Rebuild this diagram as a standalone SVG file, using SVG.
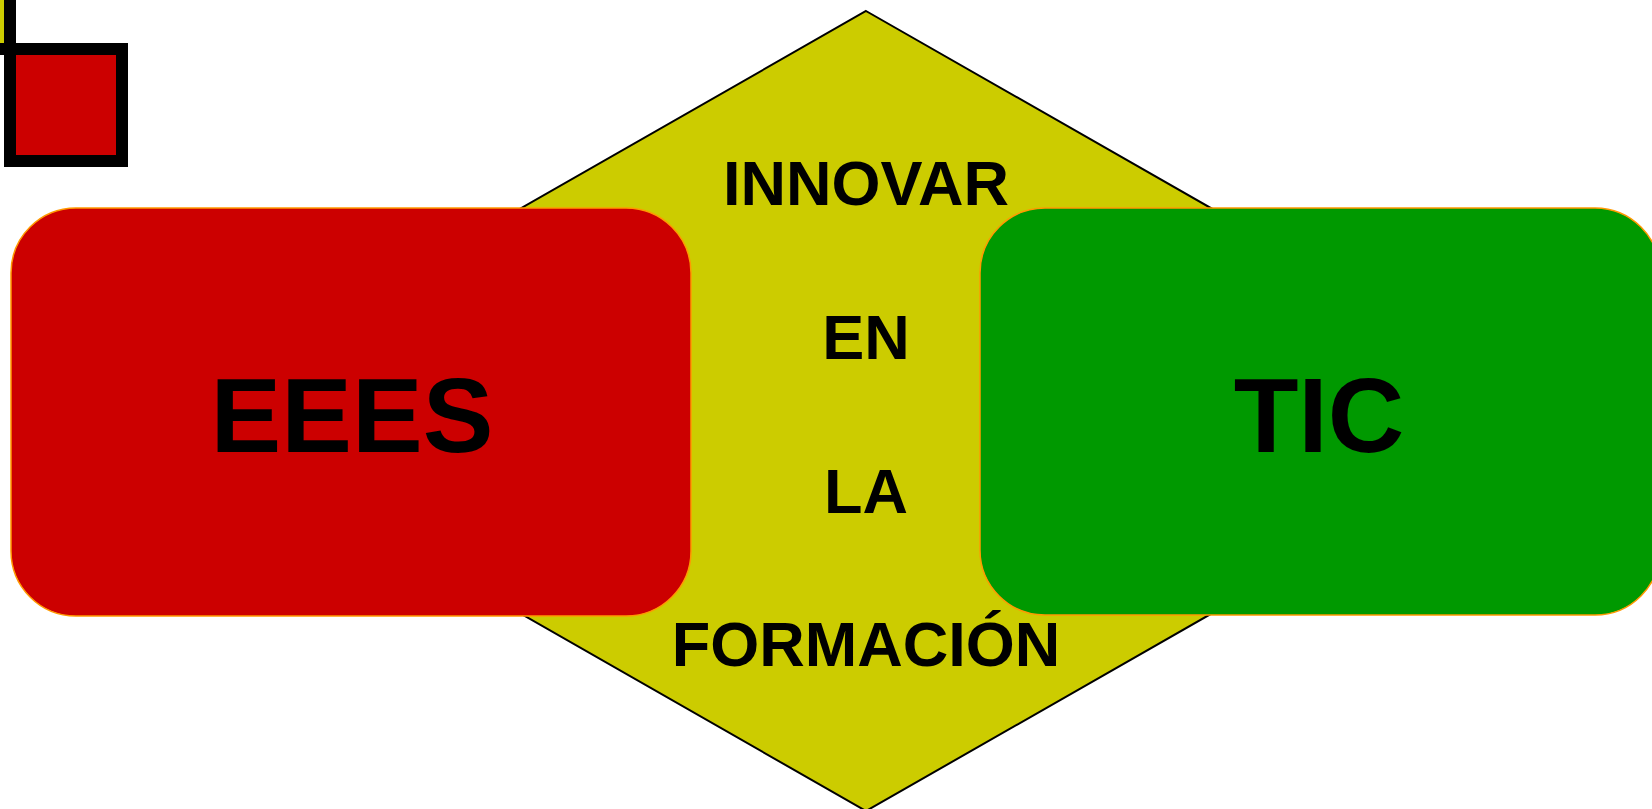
<svg xmlns="http://www.w3.org/2000/svg" width="1652" height="809" viewBox="0 0 1652 809">
<style>
.t{font-family:"Liberation Sans",Arial,sans-serif;font-weight:bold;fill:#000;text-anchor:middle}
.big{font-size:106px}
.mid{font-size:63px}
.node{stroke:#FF9900;stroke-width:1.5}
</style>
<rect width="1652" height="809" fill="#fff"/>
<g id="legend">
<rect x="-102" y="-63" width="112" height="112" fill="#CCCC00" stroke="#000" stroke-width="12"/>
<rect x="10" y="49" width="112" height="112" fill="#CC0000" stroke="#000" stroke-width="12"/>
</g>
<g id="center">
<polygon points="866,11 1566,411 866,811 166,411" fill="#CCCC00" stroke="#000" stroke-width="2"/>
<text class="t mid" x="866" y="205">INNOVAR</text>
<text class="t mid" x="866" y="359">EN</text>
<text class="t mid" x="866" y="513">LA</text>
<text class="t mid" x="866" y="666">FORMACIÓN</text>
</g>
<g id="eees">
<rect class="node" x="11" y="208" width="680" height="408" rx="65" ry="65" fill="#CC0000"/>
<text class="t big" x="352" y="452">EEES</text>
</g>
<g id="tic">
<rect class="node" x="980" y="208" width="680" height="407" rx="65" ry="65" fill="#009900"/>
<text class="t big" x="1319" y="452">TIC</text>
</g>
<g id="connectors"></g>
</svg>
